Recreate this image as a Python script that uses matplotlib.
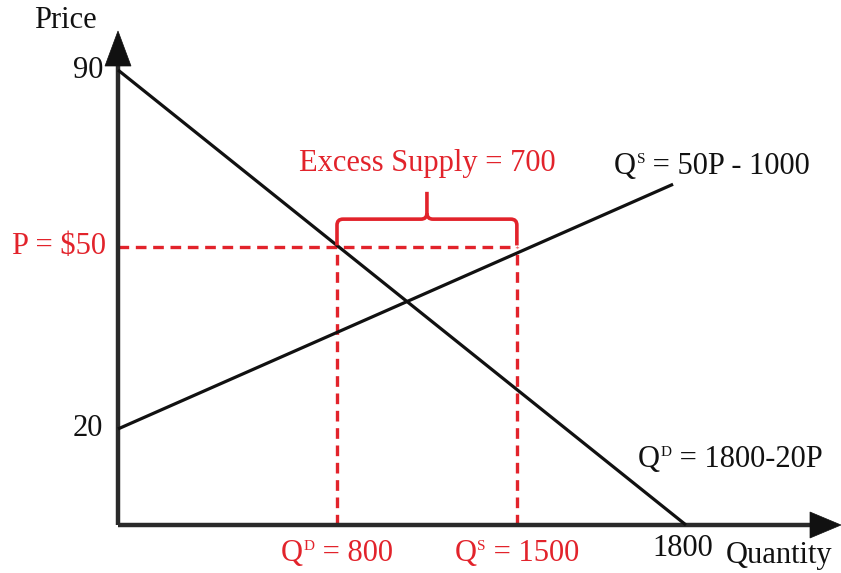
import matplotlib
matplotlib.use("Agg")
import matplotlib.pyplot as plt
from matplotlib.patches import Polygon
from matplotlib.path import Path
from matplotlib.patches import PathPatch

plt.rcParams['font.family'] = ['Liberation Serif', 'DejaVu Serif']

# ---- data (schematic diagram, positions as drawn in quantity / price units) ----
demand_q = [0, 1800]
demand_p = [90, 0]
supply_q = [0, 1759]
supply_p = [19, 67.4]
price_level = 55.0          # drawn height of the P = $50 line
qd_pos = 694                # drawn position of Q^D = 800
qs_pos = 1264               # drawn position of Q^S = 1500
brace_top = 60.5
brace_tip = 65.9
y_tick_pos = [90, 19]
y_tick_labels = ['90', '20']
x_end_label = '1800'
price_label = 'P = $50'
qd_label = ('Q', 'D', ' = 800')
qs_label = ('Q', 'S', ' = 1500')
excess_label = 'Excess Supply = 700'
supply_eq = ('Q', 'S', ' = 50P - 1000')
demand_eq = ('Q', 'D', ' = 1800-20P')

W, H = 841, 573
fig = plt.figure(figsize=(W / 100, H / 100), dpi=100)
ax = fig.add_axes([0, 0, 1, 1])
ax.axis('off')

# pixel scale of the drawing
ox, oy = 118, 525
kx = 568 / 1800
ky = 455 / 90
ax.set_xlim(-ox / kx, (W - ox) / kx)
ax.set_ylim(-(H - oy) / ky, oy / ky)


def P(x, y):
    return ((x - ox) / kx, (oy - y) / ky)


red = '#e2232b'
black = '#111111'
axis_c = '#2a2a2a'
FS = 22
SFS = 11

renderer = fig.canvas.get_renderer()


def text_width(s, size):
    t = ax.text(0, 0, s, fontsize=size)
    w = t.get_window_extent(renderer=renderer).width
    t.remove()
    return w


def sup_label(xc_px, base_px, parts, color):
    base, sup, rest = parts
    w1 = text_width(base, FS)
    w2 = text_width(sup, SFS)
    w3 = text_width(rest, FS)
    x0 = xc_px - (w1 + 1 + w2 + w3) / 2
    ax.text(*P(x0, base_px), base, fontsize=FS, ha='left', va='baseline', color=color)
    ax.text(*P(x0 + w1 + 1, base_px - 11), sup, fontsize=SFS, ha='left', va='baseline', color=color)
    ax.text(*P(x0 + w1 + 1 + w2, base_px), rest, fontsize=FS, ha='left', va='baseline', color=color)


# axes lines
ax.plot([0, P(815, 0)[0]], [0, 0], color=axis_c, lw=3.2, solid_capstyle='butt', zorder=3)
ax.plot([0, 0], [0, P(0, 62)[1]], color=axis_c, lw=3.2, solid_capstyle='butt', zorder=3)
ax.add_patch(Polygon([P(841, 525), P(810, 512), P(810, 538)], closed=True,
                     facecolor=black, edgecolor=black, lw=0.5, zorder=4))
ax.add_patch(Polygon([P(118, 31), P(105, 66), P(131, 66)], closed=True,
                     facecolor=black, edgecolor=black, lw=0.5, zorder=4))

# curves
ax.plot(demand_q, demand_p, color=black, lw=2.3, zorder=3, solid_capstyle='butt')
ax.plot(supply_q, supply_p, color=black, lw=2.3, zorder=3, solid_capstyle='butt')

# dashed lines
dash = dict(color=red, lw=2.4, linestyle=(0, (3.2, 2.0)), zorder=2)
ax.plot([0, qs_pos], [price_level, price_level], **dash)
ax.plot([qd_pos, qd_pos], [0, price_level], **dash)
ax.plot([qs_pos, qs_pos], [0, price_level], **dash)

# brace
mid = (qd_pos + qs_pos) / 2
rx = 6 / kx
ry = 6 / ky
verts = [
    (qd_pos, price_level + 0.3), (qd_pos, brace_top - ry),
    (qd_pos, brace_top), (qd_pos + rx, brace_top),
    (mid - rx, brace_top),
    (mid, brace_top), (mid, brace_top + ry),
    (mid, brace_tip),
]
codes = [Path.MOVETO, Path.LINETO, Path.CURVE3, Path.CURVE3, Path.LINETO,
         Path.CURVE3, Path.CURVE3, Path.LINETO]
verts2 = [
    (qs_pos, price_level + 0.3), (qs_pos, brace_top - ry),
    (qs_pos, brace_top), (qs_pos - rx, brace_top),
    (mid + rx, brace_top),
    (mid, brace_top), (mid, brace_top + ry),
]
codes2 = [Path.MOVETO, Path.LINETO, Path.CURVE3, Path.CURVE3, Path.LINETO,
          Path.CURVE3, Path.CURVE3]
for v, c in ((verts, codes), (verts2, codes2)):
    ax.add_patch(PathPatch(Path(v, c), facecolor='none', edgecolor=red, lw=2.6,
                           capstyle='butt', joinstyle='round', zorder=3))

# texts
ax.text(*P(65, 21), 'Price', fontsize=FS, ha='center', va='center', color=black)
for pos, lab in zip(y_tick_pos, y_tick_labels):
    ax.text(-15 / kx, pos, lab, fontsize=FS, ha='right', va='center', color=black)
ax.text(*P(683, 549), x_end_label, fontsize=FS, ha='center', va='center', color=black)
ax.text(*P(779, 555), 'Quantity', fontsize=FS, ha='center', va='center', color=black)
ax.text(-12 / kx, price_level, price_label, fontsize=FS, ha='right', va='center', color=red)
ax.text(mid, P(0, 163)[1], excess_label, fontsize=FS, ha='center', va='center', color=red)

sup_label((qd_pos * kx) + ox, 561, qd_label, red)
sup_label((qs_pos * kx) + ox, 561, qs_label, red)
sup_label(712, 174, supply_eq, black)
sup_label(730, 467, demand_eq, black)

fig.savefig('out.png', dpi=100)
